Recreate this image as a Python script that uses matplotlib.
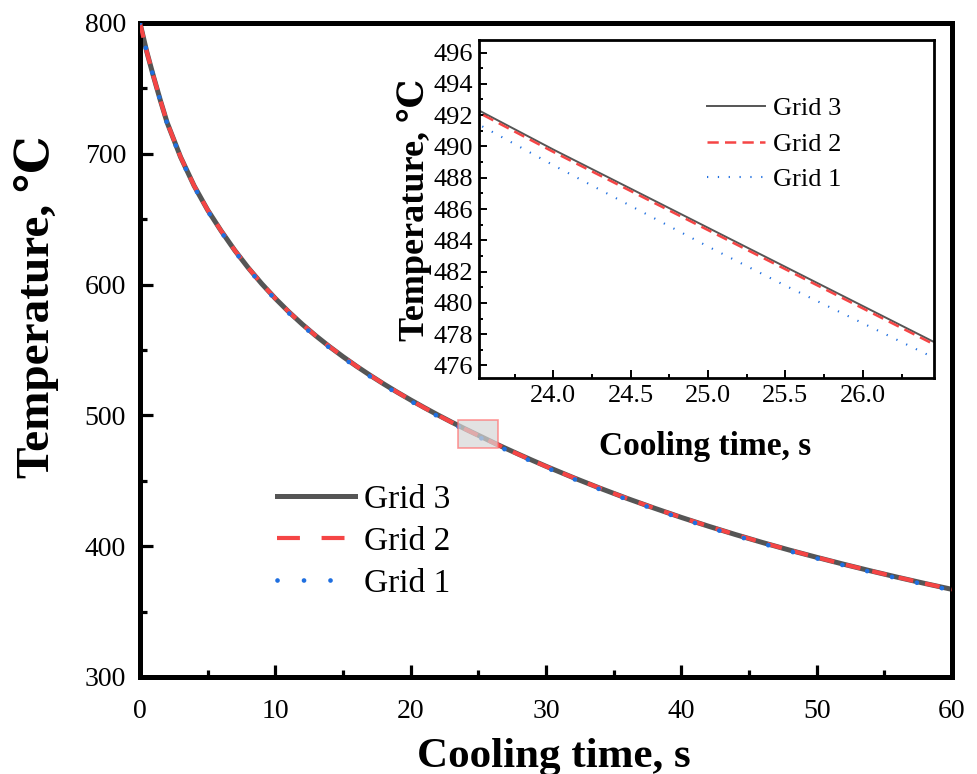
import matplotlib
matplotlib.use("Agg")
import matplotlib.pyplot as plt
from matplotlib.lines import Line2D
from matplotlib.patches import Rectangle
from matplotlib.ticker import MultipleLocator, FormatStrFormatter

plt.rcParams['font.family'] = ['Liberation Serif', 'DejaVu Serif', 'Noto Sans CJK SC']

# cooling curves for the three mesh densities
time_s = [0, 0.5, 1, 1.5, 2, 3, 4, 5, 6, 7, 8, 9, 10, 11, 12, 13, 14, 15, 16, 17, 18, 19,
          20, 21, 22, 23, 23.5, 24, 24.5, 25, 25.5, 26, 26.5, 27, 28, 29, 30,
          32, 34, 36, 38, 40, 42, 44, 46, 48, 50, 52, 54, 56, 58, 60]
grid3 = [800, 778, 759, 741, 724, 697.5, 675.5, 657, 641, 626.2, 612.8, 600.6, 589.4, 579.1,
         569.6, 560.8, 552.6, 544.9, 537.6, 530.7, 524.1, 517.8,
         511.8, 506.0, 500.4, 495.0, 492.4, 489.8, 487.3, 484.8, 482.3, 479.8, 477.3, 474.9,
         470.2, 465.6, 461.1,
         452.5, 444.3, 436.5, 429.1, 422.0, 415.3, 408.9, 402.8, 397.0, 391.5, 386.2, 381.1,
         376.2, 371.5, 367.0]
grid2 = [800, 778, 759, 741, 724, 697.5, 675.5, 657, 641, 626.2, 612.8, 600.6, 589.4, 579.1,
         569.6, 560.8, 552.6, 544.9, 537.6, 530.7, 524.1, 517.8,
         511.7, 505.85, 500.25, 494.85, 492.25, 489.65, 487.15, 484.65, 482.15, 479.65, 477.15,
         474.75, 470.05, 465.45, 461.0,
         452.5, 444.3, 436.5, 429.1, 422.0, 415.3, 408.9, 402.8, 397.0, 391.5, 386.2, 381.1,
         376.2, 371.5, 367.0]
grid1 = [800, 777.7, 758.6, 740.5, 723.4, 696.9, 674.8, 656.3, 640.3, 625.5, 612.0, 599.8,
         588.6, 578.2, 568.7, 559.9, 551.7, 544.0, 536.7, 529.8, 523.2, 516.9,
         510.9, 505.0, 499.4, 494.1, 491.5, 488.8, 486.2, 483.6, 481.1, 478.7, 476.3, 473.9,
         469.2, 464.6, 460.2,
         451.6, 443.4, 435.7, 428.3, 421.2, 414.5, 408.1, 402.0, 396.2, 390.7, 385.4, 380.3,
         375.4, 370.7, 366.3]
labels = ['Grid 3', 'Grid 2', 'Grid 1']

# zoom window
zoom_x = (23.52, 26.46)
zoom_y = (475.2, 496.8)

c_gray = '#555555'
c_red = '#f54545'
c_blue = '#1f6fe0'

fig = plt.figure(figsize=(9.77, 7.74), dpi=100)
ax = fig.add_axes([140 / 977, 1 - 677 / 774, 812 / 977, 654 / 774])

ax.plot(time_s, grid3, color=c_gray, lw=3.6, solid_capstyle='butt', zorder=2)
ax.plot(time_s, grid2, color=c_red, lw=3.0, dashes=(3.6, 2.9), zorder=3)
ax.plot(time_s, grid1, color=c_blue, lw=3.4, dashes=(0.01, 5.4),
        dash_capstyle='round', zorder=4)

ax.add_patch(Rectangle((zoom_x[0], zoom_y[0]), zoom_x[1] - zoom_x[0], zoom_y[1] - zoom_y[0],
                       facecolor='#d6d6d6', alpha=0.7, edgecolor='#ff7070', lw=1.2, zorder=5))

ax.set_xlim(0, 60)
ax.set_ylim(300, 800)
ax.xaxis.set_major_locator(MultipleLocator(10))
ax.xaxis.set_minor_locator(MultipleLocator(5))
ax.yaxis.set_major_locator(MultipleLocator(100))
ax.yaxis.set_minor_locator(MultipleLocator(50))
ax.tick_params(which='both', direction='in', top=False, right=False, width=2.3,
               labelsize=20, colors='black')
ax.tick_params(which='major', length=9)
ax.tick_params(which='minor', length=5)
ax.tick_params(axis='x', pad=16)
ax.tick_params(axis='y', pad=10)
for s in ax.spines.values():
    s.set_linewidth(3.6)

ax.set_xlabel('Cooling time, s', fontsize=31, fontweight='bold')
ax.xaxis.set_label_coords(0.51, -0.093)
ax.set_ylabel('Temperature, ℃', fontsize=34, fontweight='bold')
ax.yaxis.set_label_coords(-0.1, 0.566)

handles = [
    Line2D([], [], color=c_gray, lw=3.6),
    Line2D([], [], color=c_red, lw=3.0, dashes=(5.5, 5.2)),
    Line2D([], [], color=c_blue, lw=3.4, dashes=(0.01, 5.6), dash_capstyle='round'),
]
fig.legend(handles, labels, loc='upper left', bbox_to_anchor=(277 / 977, 1 - 484 / 774),
           frameon=False, fontsize=24, handlelength=2.35, handletextpad=0.25,
           labelspacing=0.35, borderpad=0, borderaxespad=0)

# inset with the zoomed segment
ins = fig.add_axes([479 / 977, 1 - 378 / 774, 455 / 977, 338 / 774])
ins.plot(time_s, grid3, color=c_gray, lw=1.4, label=labels[0])
ins.plot(time_s, grid2, color=c_red, lw=1.8, dashes=(4.5, 2.5), label=labels[1])
ins.plot(time_s, grid1, color=c_blue, lw=1.5, dashes=(0.6, 4.6), label=labels[2])
ins.set_xlim(*zoom_x)
ins.set_ylim(*zoom_y)
ins.xaxis.set_major_locator(MultipleLocator(0.5))
ins.xaxis.set_minor_locator(MultipleLocator(0.25))
ins.xaxis.set_major_formatter(FormatStrFormatter('%.1f'))
ins.yaxis.set_major_locator(MultipleLocator(2))
ins.yaxis.set_minor_locator(MultipleLocator(1))
ins.tick_params(which='both', direction='in', top=False, right=False, width=1.4,
                labelsize=19, colors='black')
ins.tick_params(which='major', length=6)
ins.tick_params(which='minor', length=3)
ins.tick_params(axis='x', pad=5)
ins.tick_params(axis='y', pad=4)
for s in ins.spines.values():
    s.set_linewidth(2.0)

ins.set_xlabel('Cooling time, s', fontsize=24, fontweight='bold')
ins.xaxis.set_label_coords(0.497, -0.157)
ins.set_ylabel('Temperature, ℃', fontsize=26, fontweight='bold')
ins.yaxis.set_label_coords(-0.103, 0.497)

ins.legend(loc='upper left', bbox_to_anchor=(707 / 977, 1 - 97 / 774),
           bbox_transform=fig.transFigure, frameon=False, fontsize=19,
           handlelength=2.2, handletextpad=0.3, labelspacing=0.45,
           borderpad=0, borderaxespad=0)

fig.savefig('out.png', dpi=100, facecolor='white')
